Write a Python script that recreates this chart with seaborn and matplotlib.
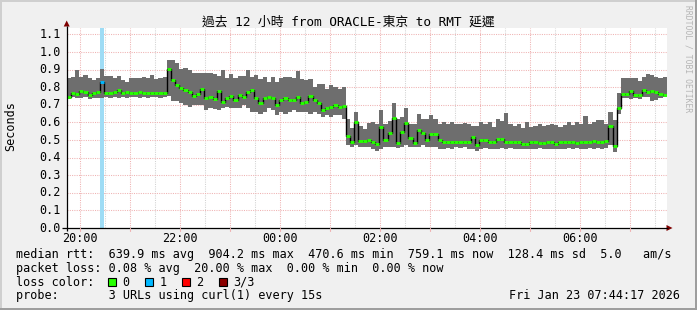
import numpy as np
import pandas as pd
import matplotlib
matplotlib.use("Agg")
import matplotlib.pyplot as plt
import seaborn as sns
from matplotlib.patches import Rectangle, Polygon

# ---------------- data ----------------
start_hour = 19 + 44 / 60 + 17 / 3600      # 19:44:17
span_hours = 12
step_minutes = 5

rtt_median = [
    0.745, 0.765, 0.762, 0.780, 0.775, 0.757, 0.765, 0.775, 0.830, 0.765, 0.768, 0.772,
    0.785, 0.765, 0.770, 0.765, 0.765, 0.775, 0.765, 0.768, 0.765, 0.768, 0.768, 0.768,
    0.903, 0.840, 0.812, 0.794, 0.785, 0.771, 0.752, 0.760, 0.790, 0.740, 0.742, 0.733,
    0.780, 0.718, 0.737, 0.752, 0.727, 0.755, 0.746, 0.771, 0.785, 0.740, 0.708, 0.740,
    0.746, 0.737, 0.700, 0.730, 0.740, 0.725, 0.725, 0.746, 0.710, 0.715, 0.751, 0.730,
    0.710, 0.670, 0.680, 0.690, 0.700, 0.685, 0.695, 0.520, 0.490, 0.600, 0.495, 0.495,
    0.500, 0.491, 0.475, 0.576, 0.500, 0.540, 0.627, 0.485, 0.547, 0.594, 0.513, 0.481,
    0.557, 0.540, 0.500, 0.534, 0.534, 0.500, 0.490, 0.490, 0.490, 0.490, 0.491, 0.491,
    0.491, 0.515, 0.472, 0.500, 0.500, 0.491, 0.487, 0.506, 0.506, 0.487, 0.487, 0.491,
    0.489, 0.478, 0.480, 0.487, 0.491, 0.485, 0.481, 0.487, 0.491, 0.480, 0.491, 0.487,
    0.487, 0.490, 0.481, 0.487, 0.487, 0.487, 0.492, 0.487, 0.490, 0.492, 0.579, 0.468,
    0.684, 0.761, 0.761, 0.780, 0.757, 0.755, 0.786, 0.771, 0.780, 0.775, 0.760, 0.756,
]
rtt_max = [
    0.853, 0.860, 0.897, 0.860, 0.872, 0.850, 0.840, 0.855, 0.903, 0.865, 0.862, 0.850,
    0.862, 0.840, 0.830, 0.852, 0.853, 0.850, 0.860, 0.850, 0.870, 0.845, 0.855, 0.860,
    0.954, 0.954, 0.935, 0.905, 0.907, 0.895, 0.880, 0.880, 0.880, 0.880, 0.880, 0.875,
    0.865, 0.900, 0.855, 0.875, 0.850, 0.865, 0.865, 0.900, 0.860, 0.870, 0.845, 0.860,
    0.830, 0.860, 0.830, 0.850, 0.860, 0.860, 0.850, 0.890, 0.845, 0.840, 0.845, 0.800,
    0.820, 0.820, 0.790, 0.810, 0.800, 0.790, 0.800, 0.620, 0.570, 0.660, 0.580, 0.560,
    0.594, 0.600, 0.590, 0.670, 0.590, 0.610, 0.708, 0.620, 0.630, 0.680, 0.590, 0.590,
    0.650, 0.620, 0.620, 0.640, 0.620, 0.590, 0.600, 0.590, 0.600, 0.590, 0.590, 0.595,
    0.589, 0.580, 0.580, 0.600, 0.590, 0.600, 0.575, 0.620, 0.610, 0.651, 0.590, 0.580,
    0.590, 0.570, 0.600, 0.575, 0.580, 0.590, 0.580, 0.585, 0.590, 0.585, 0.575, 0.585,
    0.600, 0.585, 0.600, 0.590, 0.636, 0.590, 0.600, 0.615, 0.615, 0.590, 0.660, 0.614,
    0.765, 0.850, 0.850, 0.852, 0.850, 0.835, 0.860, 0.873, 0.870, 0.860, 0.850, 0.860,
]
rtt_min = [
    0.735, 0.745, 0.740, 0.740, 0.745, 0.735, 0.740, 0.740, 0.740, 0.745, 0.740, 0.745,
    0.740, 0.745, 0.740, 0.745, 0.745, 0.740, 0.745, 0.740, 0.745, 0.745, 0.740, 0.745,
    0.750, 0.720, 0.720, 0.710, 0.700, 0.690, 0.700, 0.700, 0.700, 0.670, 0.680, 0.675,
    0.670, 0.680, 0.685, 0.680, 0.680, 0.680, 0.700, 0.680, 0.660, 0.660, 0.650, 0.660,
    0.680, 0.670, 0.640, 0.660, 0.650, 0.660, 0.670, 0.660, 0.660, 0.660, 0.650, 0.660,
    0.650, 0.630, 0.640, 0.630, 0.640, 0.640, 0.620, 0.470, 0.460, 0.470, 0.460, 0.460,
    0.460, 0.450, 0.440, 0.450, 0.460, 0.460, 0.460, 0.455, 0.460, 0.470, 0.460, 0.460,
    0.460, 0.470, 0.460, 0.460, 0.460, 0.450, 0.450, 0.455, 0.450, 0.460, 0.455, 0.460,
    0.450, 0.450, 0.440, 0.450, 0.455, 0.450, 0.450, 0.450, 0.455, 0.450, 0.455, 0.450,
    0.450, 0.450, 0.450, 0.450, 0.450, 0.452, 0.450, 0.450, 0.450, 0.450, 0.450, 0.450,
    0.452, 0.450, 0.455, 0.450, 0.450, 0.452, 0.450, 0.452, 0.450, 0.455, 0.470, 0.433,
    0.650, 0.740, 0.740, 0.735, 0.740, 0.735, 0.745, 0.745, 0.720, 0.730, 0.740, 0.745,
]
loss_pings = [
    0, 0, 0, 0, 0, 0, 0, 0, 1, 0, 0, 0, 0, 0, 0, 0, 0, 0, 0, 0, 0, 0, 0, 0,
    0, 0, 0, 0, 0, 0, 0, 0, 0, 0, 0, 0, 0, 0, 0, 0, 0, 0, 0, 0, 0, 0, 0, 0,
    0, 0, 0, 0, 0, 0, 0, 0, 0, 0, 0, 0, 0, 0, 0, 0, 0, 0, 0, 0, 0, 0, 0, 0,
    0, 0, 0, 0, 0, 0, 0, 0, 0, 0, 0, 0, 0, 0, 0, 0, 0, 0, 0, 0, 0, 0, 0, 0,
    0, 0, 0, 0, 0, 0, 0, 0, 0, 0, 0, 0, 0, 0, 0, 0, 0, 0, 0, 0, 0, 0, 0, 0,
    0, 0, 0, 0, 0, 0, 0, 0, 0, 0, 0, 0, 0, 0, 0, 0, 0, 0, 0, 0, 0, 0, 0, 0,
]

y_ticks = [0.0, 0.1, 0.2, 0.3, 0.4, 0.5, 0.6, 0.7, 0.8, 0.9, 1.0, 1.1]
x_tick_hours = [20, 22, 24, 26, 28, 30]
x_tick_labels = ["20:00", "22:00", "00:00", "02:00", "04:00", "06:00"]

title = "過去 12 小時 from ORACLE-東京 to RMT 延遲"
y_label = "Seconds"
legend_rows = [
    "median rtt:  639.9 ms avg  904.2 ms max  470.6 ms min  759.1 ms now  128.4 ms sd  5.0   am/s",
    "packet loss: 0.08 % avg  20.00 % max  0.00 % min  0.00 % now",
    "loss color:",
    "probe:       3 URLs using curl(1) every 15s",
]
loss_labels = ["0", "1", "2", "3/3"]
loss_colors = ["#26ff00", "#00b8ff", "#ff0000", "#8b0000"]
timestamp = "Fri Jan 23 07:44:17 2026"
watermark = "RRDTOOL / TOBI OETIKER"

# ---------------- figure ----------------
sns.set_style("white")
plt.rcParams["font.family"] = ["DejaVu Sans Mono", "Noto Sans CJK TC"]

W, H = 697, 310
fig = plt.figure(figsize=(W / 100, H / 100), dpi=100, facecolor="#f0f0f0")
PL, PR, PT, PB = 66.7, 666.7, 28.0, 228.0
PX_PER_UNIT = 176.0
ax = fig.add_axes([PL / W, 1 - PB / H, (PR - PL) / W, (PB - PT) / H])
ax.set_facecolor("white")
for s in ax.spines.values():
    s.set_visible(False)

step_h = step_minutes / 60
n = len(rtt_median)
t_start = start_hour + np.arange(n) * step_h
df = pd.DataFrame({"t": t_start, "median": rtt_median, "lo": rtt_min,
                   "hi": rtt_max, "loss": loss_pings})

ax.set_xlim(start_hour, start_hour + span_hours)
ax.set_ylim(0, (PB - PT) / PX_PER_UNIT)
ax.set_xticks([])
ax.set_yticks([])

# grid
pink = "#efb2b2"
grey = "#d2d2d2"
h = np.ceil(start_hour * 2) / 2
while h < start_hour + span_hours:
    major = abs(h - round(h)) < 1e-6
    ax.axvline(h, color=pink if major else grey, lw=0.75, ls=(0, (1, 1.2)), zorder=0.5)
    h += 0.5
for yv in y_ticks[1:]:
    ax.axhline(yv, color=pink, lw=0.75, ls=(0, (1, 1.2)), zorder=0.5)

# loss background band
for _, r in df[df["loss"] > 0].iterrows():
    ax.axvspan(r["t"], r["t"] + step_h, color="#9edcf5", lw=0, zorder=1)

# smoke
edges = np.r_[df["t"].values, df["t"].values[-1] + step_h]
ax.fill_between(edges, np.r_[df["lo"].values, df["lo"].values[-1]],
                np.r_[df["hi"].values, df["hi"].values[-1]],
                step="post", color="#6e6e6e", lw=0, zorder=2)

# median black step line
sns.lineplot(data=df, x="t", y="median", drawstyle="steps-post", color="black",
             lw=1.0, estimator=None, ax=ax, zorder=3)
ax.set_xlabel("")
ax.set_ylabel("")

# median coloured by loss
seg_cols = [loss_colors[int(l)] for l in df["loss"]]
lc = ax.hlines(df["median"], df["t"], df["t"] + step_h, colors=seg_cols, lw=2.1, zorder=4)
lc.set_capstyle("butt")

# ---------------- overlay in pixel coordinates ----------------
ov = fig.add_axes([0, 0, 1, 1], zorder=10)
ov.set_xlim(0, W)
ov.set_ylim(H, 0)
ov.axis("off")
ov.patch.set_alpha(0)

# 3D frame
ov.add_patch(Rectangle((0, 0), W, 2, color="#cfcfcf", lw=0))
ov.add_patch(Rectangle((0, 0), 2, H, color="#cfcfcf", lw=0))
ov.add_patch(Rectangle((0, H - 2), W, 2, color="#9e9e9e", lw=0))
ov.add_patch(Rectangle((W - 2, 0), 2, H, color="#9e9e9e", lw=0))

# axes lines and arrows
ov.plot([62, 668], [PB, PB], color="black", lw=0.9, solid_capstyle="butt")
ov.plot([PL, PL], [PB + 3, 26], color="black", lw=0.9, solid_capstyle="butt")
ov.add_patch(Polygon([(PL - 3, 26.5), (PL + 3, 26.5), (PL, 20.5)], closed=True,
                     color="#7f0000", lw=0))
ov.add_patch(Polygon([(666.5, PB - 3), (666.5, PB + 3), (672.5, PB)], closed=True,
                     color="#7f0000", lw=0))

def xpix(hour):
    return PL + (hour - start_hour) / span_hours * (PR - PL)

def ypix(v):
    return PB - v * PX_PER_UNIT

fs = 8.5
for hr in np.arange(20, 32):
    ov.plot([xpix(hr), xpix(hr)], [PB, PB + 2.5], color=pink, lw=0.8)
for hr, lab in zip(x_tick_hours, x_tick_labels):
    ov.text(xpix(hr), 238, lab, ha="center", va="center", fontsize=fs, color="black")
for v in y_ticks:
    ov.text(60.8, ypix(v), f"{v:.1f}", ha="right", va="center", fontsize=fs, color="black")

ov.text(348, 22.5, title, ha="center", va="center", fontsize=9.2, color="black")
ov.text(10.5, 126, y_label, ha="center", va="center", rotation=90, fontsize=fs, color="black")
ov.text(688, 5, watermark, ha="center", va="top", rotation=-90, fontsize=5.8, color="#b5b5b5")

row_y = [254.3, 268.3, 282.3, 295.8]
for txt, yy in zip(legend_rows, row_y):
    ov.text(15.5, yy, txt, ha="left", va="center", fontsize=fs, color="black")

box_x = [108.0, 145.0, 182.0, 219.0]
for bx, lab, col in zip(box_x, loss_labels, loss_colors):
    ov.add_patch(Rectangle((bx, row_y[2] - 4.5), 8, 8, facecolor=col, edgecolor="black", lw=0.8))
    ov.text(bx + 14.5, row_y[2], lab, ha="left", va="center", fontsize=fs, color="black")

ov.text(680, row_y[3], timestamp, ha="right", va="center", fontsize=fs, color="black")

fig.savefig("out.png", dpi=100, facecolor=fig.get_facecolor())
